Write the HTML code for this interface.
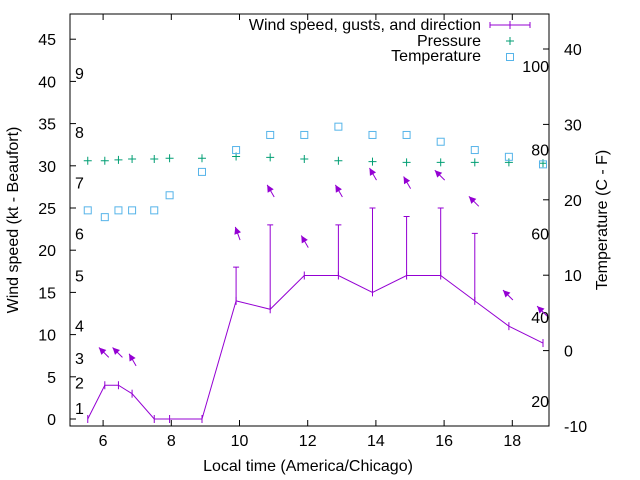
<!DOCTYPE html>
<html><head><meta charset="utf-8"><style>
body{margin:0;background:#fff}
svg{display:block;font-family:"Liberation Sans",sans-serif}
</style></head><body>
<svg id="c" width="640" height="480"></svg>
<script>
const times=[5.55,6.05,6.45,6.85,7.5,7.95,8.9,9.9,10.9,11.9,12.9,13.9,14.9,15.9,16.9,17.9,18.9];
const speed=[0,4,4,3,0,0,0,14,13,17,17,15,17,17,14,11,9];
const gusts=[null,null,null,null,null,null,null,18,23,null,23,25,24,25,22,null,null];
const pressure=[30.6,30.6,30.7,30.8,30.8,30.9,30.9,31.1,31.0,30.8,30.6,30.5,30.4,30.4,30.4,30.4,30.3];
const temps=[18.6,17.7,18.6,18.6,18.6,20.6,23.7,26.6,28.6,28.6,29.7,28.6,28.6,27.7,26.6,25.7,24.7];
const arrowT=[6.05,6.45,6.85,9.9,10.9,11.9,12.9,13.9,14.9,15.9,16.9,17.9,18.9];
const arrowY=[7.3,7.3,6.3,21.2,26.3,20.3,26.3,28.3,27.3,28.3,25.2,14.1,12.2];
const arrowDir=[135,135,120,110,120,120,120,120,120,135,135,135,135];
const xTicks=[6,8,10,12,14,16,18];
const yTicks=[0,5,10,15,20,25,30,35,40,45];
const y2Ticks=[-10,0,10,20,30,40];
const bft=[1,2,3,4,5,6,7,8,9];
const bftKt=[1.3,4.3,7.2,11.1,17,22,28,34,41];
const fLabels=[20,40,60,80,100];
const NS='http://www.w3.org/2000/svg',svg=document.getElementById('c');
const L=70,R=549,T=14,B=426;
const X=t=>69+(t-5)*34.1;
const Y=v=>419-v*8.44;
const Y2=v=>426-(v+10)*7.54;
function el(tag,a,p){const e=document.createElementNS(NS,tag);for(const k in a)e.setAttribute(k,a[k]);(p||svg).appendChild(e);return e;}
function txt(x,y,s,anchor,extra){const e=el('text',Object.assign({x:x,y:y,'font-size':16,'text-anchor':anchor||'middle',fill:'#000'},extra||{}));e.textContent=s;return e;}
const PU='#9400d3',GR='#009e73',BL='#56b4e9';
const f=el('rect',{x:L,y:T,width:R-L,height:B-T,fill:'none',stroke:'#000','stroke-width':1});

xTicks.forEach(t=>{el('line',{x1:X(t),x2:X(t),y1:B,y2:B-6,stroke:'#000'});el('line',{x1:X(t),x2:X(t),y1:T,y2:T+6,stroke:'#000'});
 const e=txt(X(t),446,String(t));});
yTicks.forEach(v=>{el('line',{x1:L,x2:L+6,y1:Y(v),y2:Y(v),stroke:'#000'});
 const e=txt(56,Y(v)+6,String(v),'end');});
y2Ticks.forEach(v=>{el('line',{x1:R,x2:R-6,y1:Y2(v),y2:Y2(v),stroke:'#000'});
 const e=txt(564,Y2(v)+6,String(v),'start');});
bft.forEach((b,i)=>{const e=txt(75,Y(bftKt[i])+6,String(b),'start');});
fLabels.forEach(v=>{const c=(v-32)*5/9;const e=txt(549,Y2(c)+6,String(v),'end');});
let e=txt(308,471,'Local time (America/Chicago)');
e=txt(0,0,'Wind speed (kt - Beaufort)','middle',{transform:'translate(18,220) rotate(-90)'});
e=txt(0,0,'Temperature (C - F)','middle',{transform:'translate(607,220) rotate(-90)'});
e=el('polyline',{points:times.map((t,i)=>X(t)+','+Y(speed[i])).join(' '),fill:'none',stroke:PU,'stroke-width':1});

times.forEach((t,i)=>{el('line',{x1:X(t),x2:X(t),y1:Y(speed[i])-4,y2:Y(speed[i])+4,stroke:PU});
 if(gusts[i]!=null){const g=el('path',{d:`M${X(t)},${Y(speed[i])}V${Y(gusts[i])}M${X(t)-3},${Y(gusts[i])}H${X(t)+3}`,stroke:PU,fill:'none'});
 }});
arrowT.forEach((t,i)=>{const a=arrowDir[i]*Math.PI/180,len=14;
 const x0=X(t)+4,y0=Y(arrowY[i]);
 const x1=x0+len*Math.cos(a),y1=y0-len*Math.sin(a);
 const ux=(x1-x0)/len,uy=(y1-y0)/len;
 const g=el('g',{});
 el('line',{x1:x0,y1:y0,x2:x1,y2:y1,stroke:PU},g);
 const hx=x1-ux*7,hy=y1-uy*7;
 el('polygon',{points:`${x1},${y1} ${hx-uy*3.5},${hy+ux*3.5} ${hx+uy*3.5},${hy-ux*3.5}`,fill:PU},g);});
times.forEach((t,i)=>{const x=X(t),y=Y(pressure[i]);const p=el('path',{d:`M${x-4},${y}H${x+4}M${x},${y-4}V${y+4}`,stroke:GR});
 });
times.forEach((t,i)=>{const r=el('rect',{x:X(t)-3.5,y:Y2(temps[i])-3.5,width:7,height:7,fill:'none',stroke:BL});
 });
const lg=el('g',{});
[['Wind speed, gusts, and direction',30],['Pressure',46],['Temperature',61]].forEach(([s,y])=>{const t=txt(481,y,s,'end');lg.appendChild(t);});
el('path',{d:'M490,25H530M490,22V28M530,22V28M510,21V29',stroke:PU,fill:'none'},lg);
el('path',{d:'M506,41H514M510,37V45',stroke:GR},lg);
el('rect',{x:506.5,y:53.5,width:7,height:7,fill:'none',stroke:BL},lg);
</script>
</body></html>
